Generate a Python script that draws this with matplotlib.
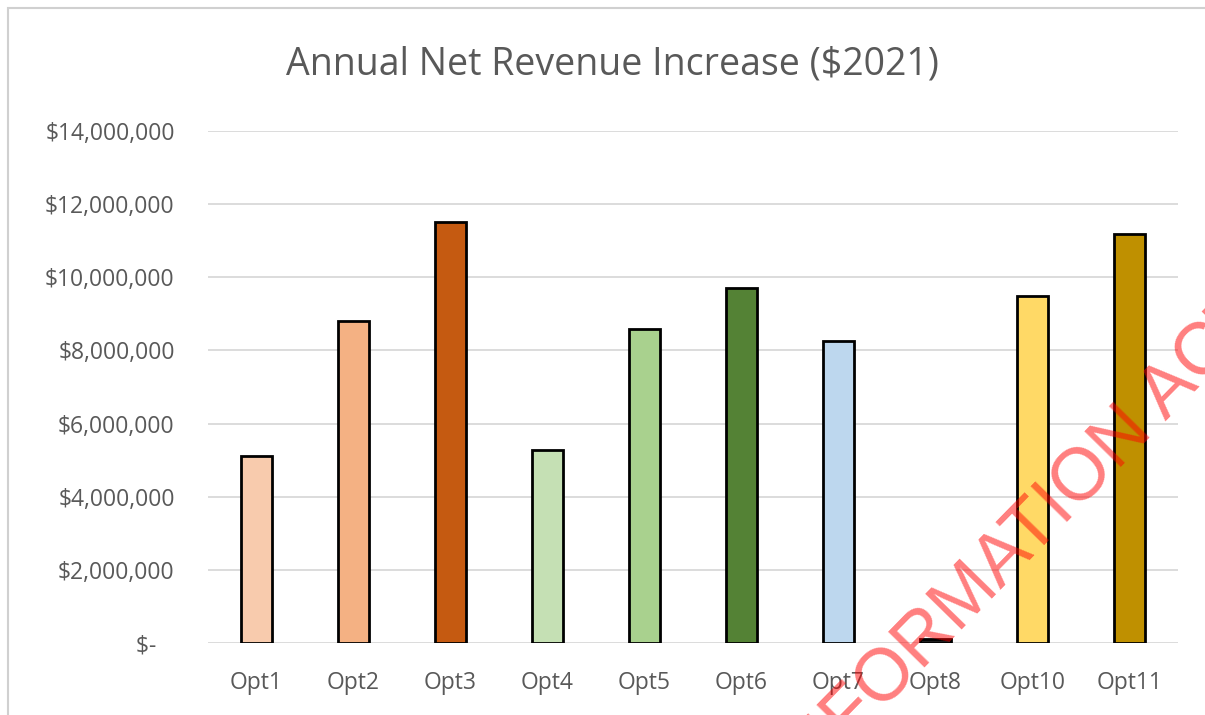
import matplotlib.pyplot as plt
from matplotlib.patches import Rectangle

# chart data
options = ['Opt1', 'Opt2', 'Opt3', 'Opt4', 'Opt5', 'Opt6', 'Opt7', 'Opt8', 'Opt10', 'Opt11']
revenue = [5100000, 8800000, 11500000, 5280000, 8580000, 9700000, 8270000, 100000, 9480000, 11180000]
colors = ['#F8CBAD', '#F4B183', '#C55A11', '#C5E0B4', '#A9D18E', '#548235',
          '#BDD7EE', '#1F1F1F', '#FFD966', '#BF9000']
yticks = [0, 2000000, 4000000, 6000000, 8000000, 10000000, 12000000, 14000000]
ylabels = ['$-   ', '$2,000,000', '$4,000,000', '$6,000,000', '$8,000,000',
           '$10,000,000', '$12,000,000', '$14,000,000']

plt.rcParams['font.family'] = ['Open Sans', 'DejaVu Sans']
txt = '#595959'

fig = plt.figure(figsize=(12.05, 7.15), dpi=100)
fig.patches.append(Rectangle((8 / 1205, -0.1), 1.2, 1.1 - 8 / 715, transform=fig.transFigure,
                             fill=False, edgecolor='#D0D0D0', lw=1.5))

ax = fig.add_axes([208 / 1205, 72 / 715, 970 / 1205, 512 / 715])
x = range(len(options))
ax.bar(x, revenue, width=0.31, color=colors, edgecolor='black', linewidth=2, zorder=3)

ax.set_xlim(-0.5, len(options) - 0.5)
ax.set_ylim(0, 14000000)
ax.set_yticks(yticks)
ax.set_yticklabels(ylabels)
ax.set_xticks(list(x))
ax.set_xticklabels(options)
ax.tick_params(axis='both', length=0, labelsize=16.5, colors=txt)
ax.tick_params(axis='y', pad=24)
ax.tick_params(axis='x', pad=20)
ax.grid(axis='y', color='#D9D9D9', lw=1.3, zorder=0)
for s in ax.spines.values():
    s.set_visible(False)

fig.text(612 / 1205, 1 - 64 / 715, 'Annual Net Revenue Increase ($2021)', ha='center', va='center',
         fontsize=27, color=txt)

# watermark
fig.text(798 / 1205, 1 - 797 / 715, 'INFORMATION ACT', rotation=45.6, rotation_mode='anchor',
         ha='left', va='baseline', fontsize=53, color='red', alpha=0.5,
         family=['Liberation Sans', 'DejaVu Sans'])

fig.savefig('out.png', dpi=100)
